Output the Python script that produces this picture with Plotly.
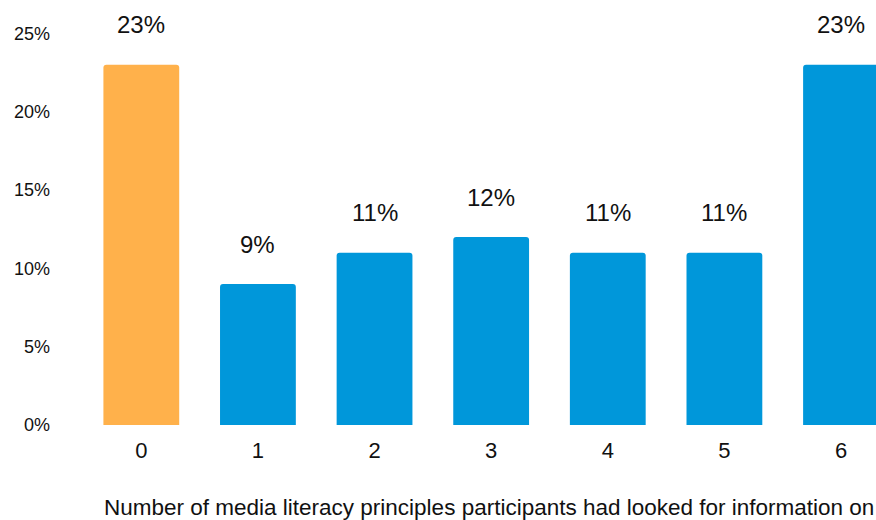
import plotly.graph_objects as go

# Share of participants by number of media literacy principles checked
categories = ["0", "1", "2", "3", "4", "5", "6"]
shares = [0.23, 0.09, 0.11, 0.12, 0.11, 0.11, 0.23]
value_labels = ["23%", "9%", "11%", "12%", "11%", "11%", "23%"]
y_ticks = [0, 0.05, 0.10, 0.15, 0.20, 0.25]
y_tick_labels = ["0%", "5%", "10%", "15%", "20%", "25%"]
x_title = "Number of media literacy principles participants had looked for information on"

ORANGE = "#FFB14B"
BLUE = "#0097DA"
colors = [ORANGE] + [BLUE] * (len(categories) - 1)

FONT = "Liberation Sans, Arial, sans-serif"

fig = go.Figure(
    go.Bar(
        x=categories,
        y=shares,
        marker=dict(color=colors, line=dict(width=0)),
        hoverinfo="skip",
    )
)

# Value labels floating above each bar
for cat, val, lab in zip(categories, shares, value_labels):
    fig.add_annotation(
        x=cat, y=val, text=lab, showarrow=False,
        yanchor="middle", yshift=40,
        font=dict(family=FONT, size=24, color="#111111"),
    )

# Axis title, centred under the full category band (which runs past the right edge)
fig.add_annotation(
    xref="paper", yref="paper", x=(489 - 83) / 793, y=0,
    xanchor="center", yanchor="middle", yshift=-82,
    text=x_title, showarrow=False,
    font=dict(family=FONT, size=22.5, color="#111111"),
)

fig.update_layout(
    width=876, height=520,
    margin=dict(l=83, r=0, t=0, b=95),
    paper_bgcolor="white", plot_bgcolor="white",
    bargap=0.35, barcornerradius=3,
    showlegend=False,
    font=dict(family=FONT, color="#111111"),
)
fig.update_xaxes(
    type="category", range=[-0.5, 6.3],
    showgrid=False, zeroline=False, showline=False, ticks="",
    tickfont=dict(size=22, color="#111111"),
    ticklabelstandoff=10,
)
fig.update_yaxes(
    range=[0, 0.2714],
    tickvals=y_ticks, ticktext=y_tick_labels,
    showgrid=False, zeroline=False, showline=False, ticks="",
    tickfont=dict(size=18, color="#111111"),
    ticklabelstandoff=32,
)

fig.write_html("out.html")
